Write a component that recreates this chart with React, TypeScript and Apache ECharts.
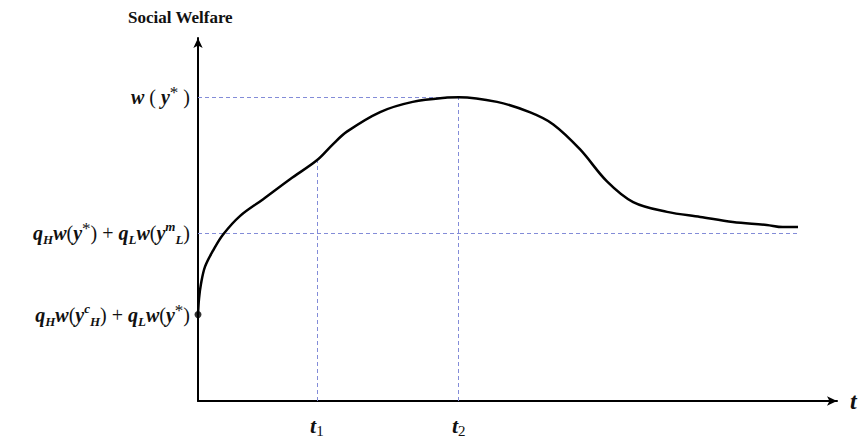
import React, { useEffect, useRef } from "react";
import * as echarts from "echarts";

// Curve of social welfare over time t (arbitrary units)
const curveT = [0, 0.16, 0.47, 1.1, 2.35, 3.9, 6.6, 10.2, 14.4, 18.6, 21.1, 23.3, 28.5, 33.6, 39.0, 40.8, 46.8, 52.0, 55.6, 59.8, 64.0, 68.1, 73.4, 78.6, 83.7, 89.0, 91.5, 93.9];
const curveW = [23.8, 28.2, 32.3, 37.0, 41.4, 45.8, 51.0, 55.6, 61.1, 66.3, 70.7, 74.2, 79.6, 82.4, 83.6, 83.7, 82.4, 79.5, 76.2, 69.3, 60.5, 54.8, 52.1, 50.7, 49.3, 48.5, 47.9, 47.9];

const startDot = [0, 23.8];

// y-axis reference levels and labels
const yLevels = [23.8, 46.16, 83.7];
const yLabelTexts = [
  "{i|q}{sub|H}{i|w}{n|(}{i|y}{sup|c}{sub|H}{n|)}{n| + }{i|q}{sub|L}{i|w}{n|(}{i|y}{ast|*}{n|)}",
  "{i|q}{sub|H}{i|w}{n|(}{i|y}{ast|*}{n|)}{n| + }{i|q}{sub|L}{i|w}{n|(}{i|y}{sup|m}{sub|L}{n|)}",
  "{i|w}{n| ( }{i|y}{ast|*}{n| )}",
];

// x-axis marks
const xMarks = [18.6, 40.8];
const xLabelTexts = ["{t|t}{s|1}", "{t|t}{s|2}"];

// guide lines
const level2End = 94.2;
const curveAtT1 = 66.3;

const SERIF = "'Liberation Serif', 'Times New Roman', serif";

export default function App() {
  const ref = useRef<HTMLDivElement>(null);
  useEffect(() => {
    if (!ref.current) return;
    const chart = echarts.init(ref.current, undefined, { renderer: "svg" });
    const mathRich = {
      i: { fontFamily: SERIF, fontStyle: "italic", fontWeight: "bold", fontSize: 20, color: "#111", lineHeight: 26 },
      n: { fontFamily: SERIF, fontSize: 20, color: "#111", lineHeight: 26 },
      sub: { fontFamily: SERIF, fontStyle: "italic", fontWeight: "bold", fontSize: 13, color: "#111", lineHeight: 13, verticalAlign: "bottom" },
      sup: { fontFamily: SERIF, fontStyle: "italic", fontWeight: "bold", fontSize: 13, color: "#111", lineHeight: 15, verticalAlign: "top" },
      ast: { fontFamily: SERIF, fontSize: 17, color: "#111", lineHeight: 20, verticalAlign: "top" },
    };
    const guide = { color: "#838cd8", type: [4, 3], width: 1 };
    chart.setOption({
      animation: false,
      title: {
        text: "Social Welfare",
        left: 123,
        top: 4,
        textStyle: { fontFamily: SERIF, fontWeight: "bold", fontSize: 17, color: "#111" },
      },
      grid: { left: 198, right: 25, top: 38, bottom: 35 },
      xAxis: {
        type: "value",
        min: 0,
        max: 100,
        name: "t",
        nameGap: 13,
        nameTextStyle: { fontFamily: SERIF, fontStyle: "italic", fontWeight: "bold", fontSize: 24, color: "#111", verticalAlign: "middle" },
        axisLine: { show: true, lineStyle: { color: "#000", width: 2 }, symbol: ["none", "arrow"], symbolSize: [7, 10], symbolOffset: [0, 0] },
        axisTick: { show: false },
        splitLine: { show: false },
        axisLabel: {
          customValues: xMarks,
          margin: 11,
          formatter: (v: number) => {
            const idx = xMarks.findIndex((m) => Math.abs(m - v) < 1e-6);
            return idx >= 0 ? xLabelTexts[idx] : "";
          },
          rich: {
            t: { fontFamily: SERIF, fontStyle: "italic", fontWeight: "bold", fontSize: 22, color: "#111", lineHeight: 26 },
            s: { fontFamily: SERIF, fontSize: 15, color: "#111", lineHeight: 14, verticalAlign: "bottom" },
          },
        },
      },
      yAxis: {
        type: "value",
        min: 0,
        max: 100,
        axisLine: { show: true, lineStyle: { color: "#000", width: 2 }, symbol: ["none", "arrow"], symbolSize: [7, 10], symbolOffset: [0, 0] },
        axisTick: { show: false },
        splitLine: { show: false },
        axisLabel: {
          customValues: yLevels,
          margin: 8,
          formatter: (v: number) => {
            const idx = yLevels.findIndex((m) => Math.abs(m - v) < 1e-6);
            return idx >= 0 ? yLabelTexts[idx] : "";
          },
          rich: mathRich,
        },
      },
      series: [
        {
          type: "line",
          data: curveT.map((t, k) => [t, curveW[k]]),
          smooth: 0.35,
          symbol: "none",
          lineStyle: { color: "#000", width: 2.5 },
          z: 3,
          markLine: {
            silent: true,
            symbol: ["none", "none"],
            label: { show: false },
            lineStyle: guide,
            emphasis: { disabled: true },
            z: 1,
            data: [
              [{ coord: [0, yLevels[2]] }, { coord: [xMarks[1], yLevels[2]] }],
              [{ coord: [0, yLevels[1]] }, { coord: [level2End, yLevels[1]] }],
              [{ coord: [xMarks[0], 0] }, { coord: [xMarks[0], curveAtT1] }],
              [{ coord: [xMarks[1], 0] }, { coord: [xMarks[1], yLevels[2]] }],
            ],
          },
        },
        {
          type: "scatter",
          data: [startDot],
          symbol: "circle",
          symbolSize: 7,
          itemStyle: { color: "#000" },
          z: 4,
        },
      ],
    });
    return () => chart.dispose();
  }, []);
  return <div ref={ref} style={{ position: "fixed", left: 0, top: 0, width: 862, height: 438, background: "#fff" }} />;
}
